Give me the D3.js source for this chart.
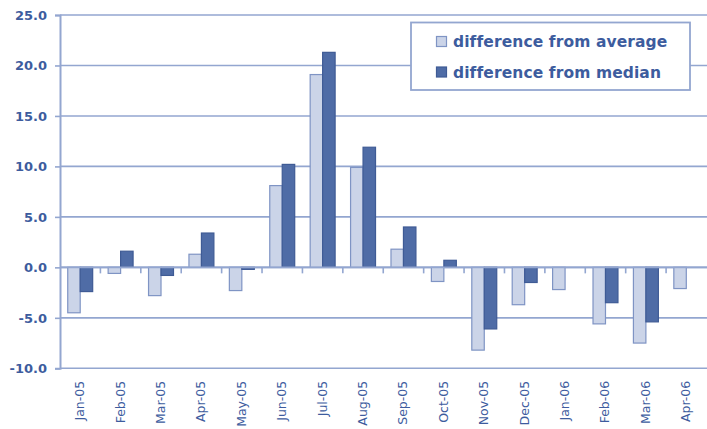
<!DOCTYPE html>
<html>
<head>
<meta charset="utf-8">
<script src="https://cdn.jsdelivr.net/npm/d3@7"></script>
<style>
  html, body { margin: 0; padding: 0; background: #fff; }
  svg { display: block; }
</style>
</head>
<body>
<svg id="chart" width="707" height="429"></svg>
<script>
// Monthly deviations, Jan 2005 – Apr 2006
const months = ["Jan-05","Feb-05","Mar-05","Apr-05","May-05","Jun-05","Jul-05","Aug-05",
                "Sep-05","Oct-05","Nov-05","Dec-05","Jan-06","Feb-06","Mar-06","Apr-06"];
const seriesNames = ["difference from average", "difference from median"];
const diffFromAverage = [-4.5, -0.6, -2.8, 1.3, -2.3, 8.1, 19.1, 9.9, 1.8, -1.4, -8.2, -3.7, -2.2, -5.6, -7.5, -2.1];
const diffFromMedian  = [-2.4, 1.6, -0.8, 3.4, -0.2, 10.2, 21.3, 11.9, 4.0, 0.7, -6.1, -1.5, 0.0, -3.5, -5.4, 0.0];
const yTicks = [-10, -5, 0, 5, 10, 15, 20, 25];

const seriesValues = [diffFromAverage, diffFromMedian];
const fills   = ["#cbd4e8", "#4f6ca6"];
const strokes = ["#7f94c4", "#3f5b95"];
const inkColor  = "#3d5c9e";
const gridColor = "#93a6d0";

const svg = d3.select("#chart");
const plot = { left: 60, right: 706.5, top: 15, bottom: 368.3 };

const x0 = d3.scaleBand().domain(months).range([plot.left, plot.right]).padding(0);
const x1 = d3.scaleBand().domain(d3.range(seriesNames.length))
  .range([0, x0.bandwidth()]).paddingInner(0).paddingOuter(0.62);
const y = d3.scaleLinear().domain([-10, 25]).range([plot.bottom, plot.top]);

// one decimal, plain hyphen for negatives
const fmt = d => d.toFixed(1);

// horizontal gridlines
svg.append("g").selectAll("line").data(yTicks).join("line")
  .attr("x1", plot.left).attr("x2", 707)
  .attr("y1", d => y(d)).attr("y2", d => y(d))
  .attr("stroke", gridColor).attr("stroke-width", 1.6);

// value axis
const yAxis = svg.append("g")
  .attr("transform", `translate(${plot.left},0)`)
  .call(d3.axisLeft(y).tickValues(yTicks).tickFormat(fmt).tickSize(5).tickPadding(8));
yAxis.select(".domain").attr("stroke", gridColor).attr("stroke-width", 2);
yAxis.selectAll(".tick line").attr("stroke", gridColor).attr("stroke-width", 1.6);
yAxis.selectAll(".tick text")
  .attr("fill", inkColor)
  .style("font", "bold 13px 'DejaVu Sans', sans-serif");

// bars
const groups = svg.append("g").selectAll("g").data(months).join("g")
  .attr("transform", d => `translate(${x0(d)},0)`);
groups.selectAll("rect")
  .data((m, i) => seriesValues.map((vals, s) => ({ s, v: vals[i] })))
  .join("rect")
  .attr("x", d => x1(d.s))
  .attr("width", x1.bandwidth())
  .attr("y", d => y(Math.max(0, d.v)))
  .attr("height", d => Math.abs(y(d.v) - y(0)))
  .attr("fill", d => fills[d.s])
  .attr("stroke", d => strokes[d.s])
  .attr("stroke-width", 1.2);

// category axis drawn along zero
const xAxis = svg.append("g").attr("transform", `translate(0,${y(0)})`);
xAxis.append("line")
  .attr("x1", plot.left).attr("x2", 707)
  .attr("stroke", gridColor).attr("stroke-width", 1.6);
xAxis.selectAll("line.tick").data(months.slice(1)).join("line")
  .attr("class", "tick")
  .attr("x1", d => x0(d)).attr("x2", d => x0(d))
  .attr("y1", 0).attr("y2", 6)
  .attr("stroke", gridColor).attr("stroke-width", 1.6);

// month labels, rotated, under the plot
svg.append("g").selectAll("text").data(months).join("text")
  .attr("transform", d => `translate(${x0(d) + x0.bandwidth() / 2 + 4},${plot.bottom + 12.5}) rotate(-90)`)
  .attr("text-anchor", "end")
  .attr("fill", inkColor)
  .style("font", "12.5px 'DejaVu Sans', sans-serif")
  .text(d => d);

// legend
const legend = svg.append("g");
legend.append("rect")
  .attr("x", 411).attr("y", 22.5).attr("width", 279).attr("height", 67.5)
  .attr("fill", "#fff").attr("stroke", gridColor).attr("stroke-width", 1.8);
const items = legend.selectAll("g.item").data(seriesNames).join("g")
  .attr("class", "item")
  .attr("transform", (d, i) => `translate(436,${36 + i * 30.5})`);
items.append("rect")
  .attr("x", 0.5).attr("y", 0.5).attr("width", 10).attr("height", 10)
  .attr("fill", (d, i) => fills[i]).attr("stroke", (d, i) => strokes[i]).attr("stroke-width", 1.2);
items.append("text")
  .attr("x", 17).attr("y", 11)
  .attr("fill", inkColor)
  .style("font", "bold 15.5px 'DejaVu Sans', sans-serif")
  .style("letter-spacing", "0.1px")
  .text(d => d);
</script>
</body>
</html>
